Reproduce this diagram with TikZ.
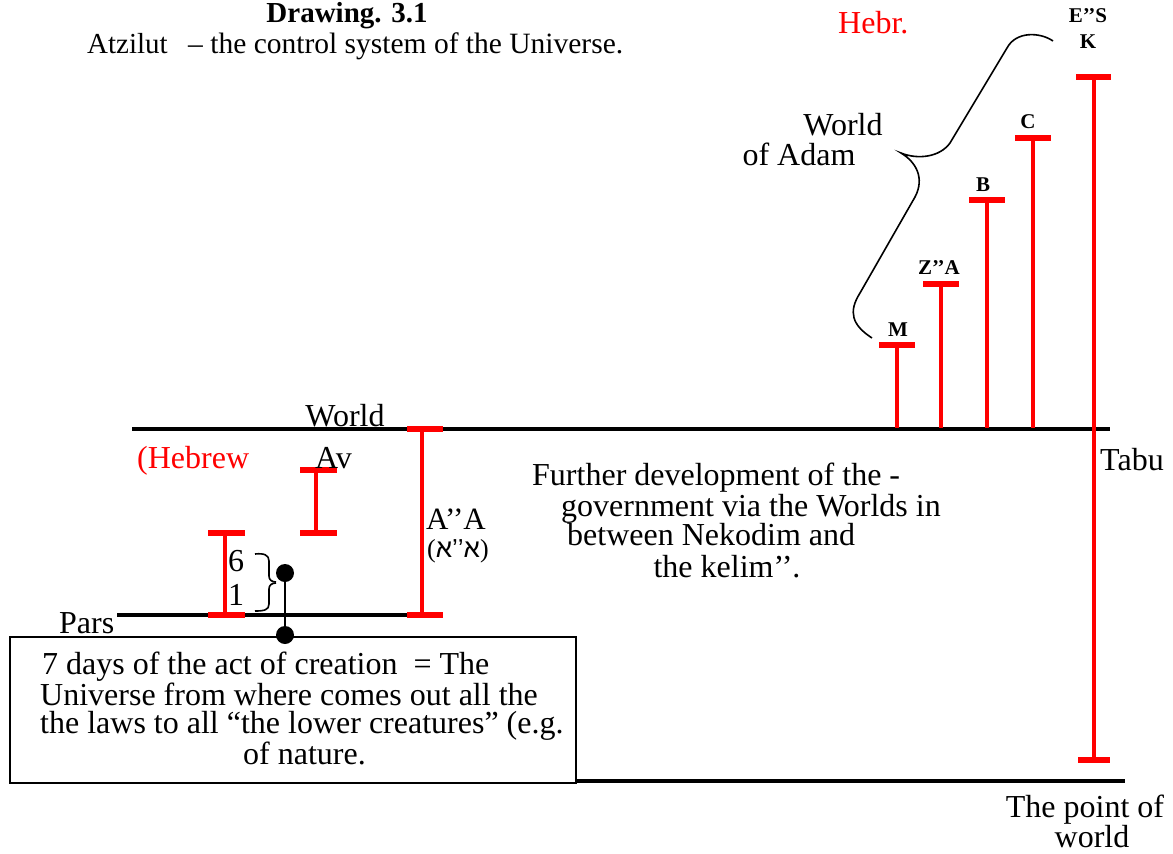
\documentclass[tikz,border=0pt]{standalone}
\usepackage{fontspec}
\setmainfont{Liberation Serif}
\newfontfamily\hebfont[Script=Hebrew]{Liberation Sans}
\TeXXeTstate=1
\newcommand\myfs[1]{\fontsize{#1}{#1}\selectfont}
\begin{document}
\begin{tikzpicture}[x=1pt,y=-1pt,
  txt/.style={inner sep=0pt, font=\myfs{32}},
  redtxt/.style={txt, text=red},
  lbl/.style={inner sep=0pt, font=\myfs{21}\bfseries},
  blk/.style={line width=3.5pt, black},
  rbar/.style={line width=4pt, red},
  rcap/.style={line width=6pt, red},
  brace/.style={line width=1.6pt, black},
  dot/.style={circle, fill=black, inner sep=0pt, minimum size=18pt},
  boxst/.style={draw, line width=2pt}
]
\useasboundingbox (0,0) rectangle (1173,854);

% title
\node[inner sep=0pt, font=\myfs{29}\bfseries, anchor=base] (title) at (347,22) {Drawing. 3.1};
\node[inner sep=0pt, font=\myfs{29}, anchor=base west] (atz) at (87,53) {Atzilut};
\node[inner sep=0pt, font=\myfs{29.5}, anchor=base west] (atz2) at (188,53) {– the control system of the Universe.};
\node[redtxt, anchor=base west] (hebr) at (838,33) {Hebr.};

% black lines
\draw[blk] (132,429) -- (1110,429);
\draw[blk] (117,615) -- (443,615);
\draw[blk] (576,781) -- (1125,781);

% right T bars
\foreach \x/\y in {897/345, 941/284, 987/200, 1033/138} {
  \draw[rbar] (\x,\y) -- (\x,428);
  \draw[rcap] (\x-18,\y) -- (\x+18,\y);
}
% E''S K bar
\draw[rbar] (1094,77) -- (1094,760);
\draw[rcap] (1076,77) -- (1111,77);
\draw[rcap] (1078,760) -- (1110,760);

% left I bars
\draw[rbar] (422,429) -- (422,615);
\draw[rcap] (407,429) -- (443,429);
\draw[rcap] (407,615) -- (443,615);
\draw[rbar] (316,470) -- (316,533);
\draw[rcap] (300,470) -- (337,470);
\draw[rcap] (300,533) -- (337,533);
\draw[rbar] (225,533) -- (225,615);
\draw[rcap] (208,533) -- (245,533);
\draw[rcap] (208,615) -- (245,615);

% labels right
\node[lbl, anchor=base] (es) at (1088,22) {E’’S};
\node[lbl, anchor=base] (k) at (1088,48) {K};
\node[lbl, anchor=base] (c) at (1028,128) {C};
\node[lbl, anchor=base] (b) at (983,191) {B};
\node[lbl, anchor=base] (za) at (939,274) {Z’’A};
\node[lbl, anchor=base] (m) at (898,336) {M};
\node[txt, anchor=base] (world1) at (843,135) {World};
\node[txt, anchor=base] (adam) at (799,165) {of Adam};

% big brace
\draw[brace] (1053,41) .. controls (1040,32) and (1016,31) .. (1007,48)
  -- (950,143) .. controls (940,157) and (918,160) .. (901,153)
  .. controls (916,162) and (925,178) .. (915,197)
  -- (860,293) .. controls (848,312) and (852,325) .. (872,338);

% left labels
\node[txt, anchor=base] (world2) at (345,426) {World};
\node[redtxt, anchor=base west] (hebrew) at (137,468) {(Hebrew};
\node[txt, anchor=base west] (av) at (315,468) {Av};
\node[inner sep=0pt, font=\myfs{31}, anchor=base west] (aa) at (426,529) {A’’A};
\node[inner sep=0pt, font=\myfs{26}, anchor=base west] (aaheb) at (427,557) {({\hebfont\beginR א’’א\endR})};
\node[txt, anchor=base west] (six) at (228,571) {6};
\node[txt, anchor=base west] (one) at (228,605) {1};
\node[txt, anchor=base west] (pars) at (59,633) {Pars};
\node[txt, anchor=base west] (tabu) at (1100,470) {Tabu};
\node[inner sep=0pt, font=\fontsize{32}{28}\selectfont, align=center, anchor=north] (point) at (1085,795)
  {The point of\\\hspace*{14pt}world};

% further development
\node[txt, anchor=base west] (fd1) at (532,485) {Further development of the -};
\node[txt, anchor=base west] (fd2) at (561,516) {government via the Worlds in};
\node[txt, anchor=base west] (fd3) at (567,545) {between Nekodim and};
\node[txt, anchor=base] (fd4) at (727,577) {the kelim’’.};

% small braces
\draw[brace] (255,554) .. controls (264,553) and (269,555) .. (269,561)
  -- (269,576) .. controls (269,580) and (272,582) .. (276,582);
\draw[brace] (276,583) .. controls (272,583) and (269,585) .. (269,589)
  -- (269,604) .. controls (269,610) and (264,611) .. (255,611);

% box frame and its text
\coordinate (boxnw) at (10,637);
\coordinate (boxse) at (576,783);
\draw[boxst] (boxnw) rectangle (boxse);
\node[inner sep=0pt, font=\fontsize{32}{28.5}\selectfont, align=left, anchor=north west] (boxtext) at (40,652)
  {\hspace*{2pt}7 days of the act of creation \ = The\\
   Universe from where comes out all the\\
   the laws to all “the lower creatures” (e.g.\\
   \hspace*{203pt}of nature.};

% dots and connector
\node[dot] (d1) at (285,573) {};
\node[dot] (d2) at (285,635) {};
\draw[line width=1.6pt] (d1.center) -- (d2.center);
\end{tikzpicture}
\end{document}
